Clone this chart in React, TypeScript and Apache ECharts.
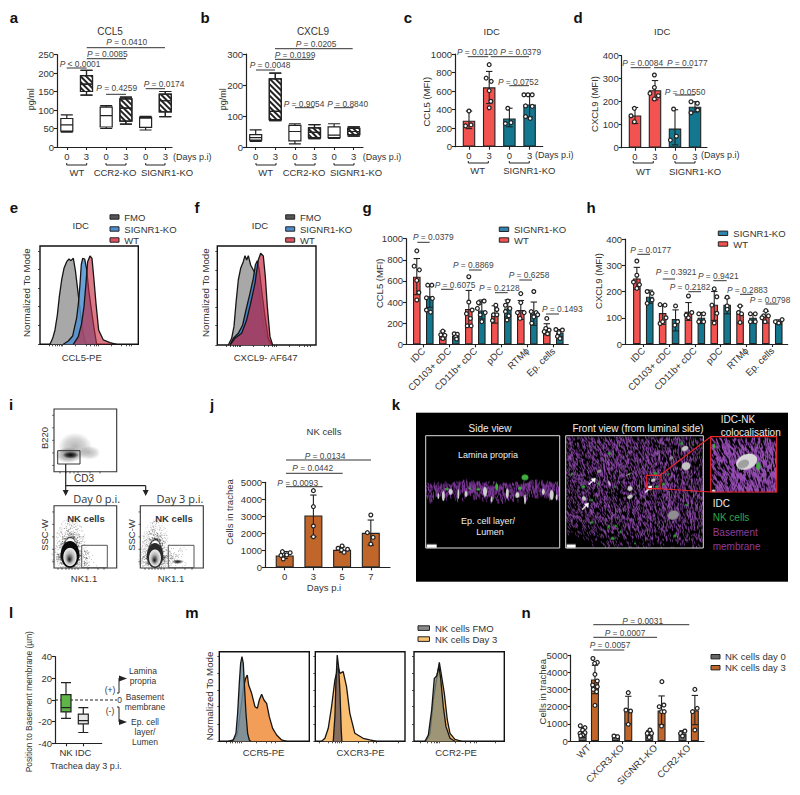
import React, { useEffect, useRef } from "react";
import * as echarts from "echarts";

const FONT = '"Liberation Sans", Arial, sans-serif';
const INK = "#333";
const LINE = "#222";
const RED = "#f25250";
const TEAL = "#12778f";
const ORANGE = "#c1662a";
const DARKGRAY = "#666";

// ---- a / b box plots: [min, q1, median, q3, max]
const dayTicks = ["0", "3", "0", "3", "0", "3"];
const aBoxes = [[40, 43, 60, 77, 87], [140, 150, 170, 193, 207], [50, 54, 85, 108, 112], [62, 70, 105, 130, 135], [46, 53, 78, 80, 83], [82, 95, 125, 143, 150]];
const bBoxes = [[18, 22, 30, 40, 55], [85, 88, 115, 220, 238], [10, 20, 50, 70, 75], [27, 30, 47, 62, 72], [28, 30, 38, 65, 75], [35, 40, 50, 60, 65]];

// ---- c / d bars
const cdTicks = ["0", "3", "0", "3"];
const cBars = [280, 640, 305, 455];
const cHi = [385, 812, 415, 560];
const cLo = [195, 465, 215, 320];
const cDots = [
  [[0, 385], [-0.17, 225], [0.1, 235]],
  [[0, 885], [-0.15, 740], [0.1, 705], [0, 605], [0.08, 490], [0, 420]],
  [[-0.08, 415], [-0.2, 250], [0.08, 260]],
  [[-0.28, 560], [-0.08, 560], [0.13, 560], [-0.2, 440], [0.13, 435], [-0.2, 325], [0.03, 305]],
];
const dBars = [140, 250, 83, 178];
const dHi = [175, 292, 165, 200];
const dLo = [105, 208, 12, 155];
const dDots = [
  [[-0.03, 171], [-0.2, 139], [-0.03, 113]],
  [[-0.03, 316], [-0.03, 262], [-0.25, 236], [0.17, 226], [-0.03, 212]],
  [[-0.07, 168], [0.07, 50], [-0.23, 33]],
  [[-0.2, 200], [0.12, 193], [0.13, 164], [-0.2, 152]],
];

// ---- e / f histograms
const eFmo = [[150, 0], [158, 18], [165, 43], [172, 88], [178, 143], [185, 193], [192, 228], [200, 248], [207, 256], [213, 251], [220, 258], [226, 223], [232, 173], [238, 123], [244, 70], [250, 30], [258, 0]];
const eKo = [[190, 0], [205, 10], [218, 25], [230, 79], [236, 130], [240, 180], [244, 240], [248, 258], [254, 256], [260, 225], [266, 165], [274, 105], [282, 50], [290, 0]];
const eWt = [[220, 0], [235, 23], [245, 63], [252, 113], [258, 183], [263, 248], [270, 265], [276, 258], [282, 193], [288, 123], [296, 43], [310, 13], [330, 5], [350, 0]];
const fFmo = [[685, 0], [695, 20], [702, 55], [708, 125], [715, 195], [722, 230], [730, 250], [735, 268], [740, 255], [745, 268], [752, 240], [760, 225], [768, 210], [775, 175], [785, 95], [795, 35], [810, 0]];
const fKo = [[690, 0], [700, 20], [715, 35], [728, 60], [738, 105], [750, 155], [760, 200], [766, 240], [772, 253], [778, 225], [785, 165], [795, 85], [805, 20], [815, 0]];
const fWt = [[690, 0], [705, 20], [725, 35], [740, 75], [752, 125], [765, 185], [775, 255], [782, 275], [790, 267], [796, 205], [802, 115], [810, 25], [818, 0]];

// ---- g / h grouped bars (WT, KO per cell type)
const cellTypes = ["IDC", "CD103+ cDC", "CD11b+ cDC", "pDC", "RTM\u03d5", "Ep. cells"];
const gBars = [640, 455, 85, 80, 335, 320, 285, 340, 325, 290, 140, 110];
const gHi = [812, 560, 125, 110, 510, 420, 365, 420, 415, 400, 195, 140];
const gLo = [470, 350, 45, 50, 170, 240, 200, 260, 235, 180, 90, 75];
const gDots = [
  [[0, 885], [-0.1, 740], [0.1, 705], [0, 605], [0.08, 490], [0, 420]],
  [[-0.08, 560], [0.08, 560], [-0.13, 440], [0.1, 435], [-0.13, 325], [0.03, 305]],
  [[0, 125], [-0.08, 90], [0.08, 85], [0, 55]],
  [[-0.06, 100], [0.06, 95], [0, 70], [0.03, 50]],
  [[0, 640], [0, 400], [0.13, 325], [-0.09, 290], [0.06, 245], [-0.06, 175], [0.09, 175]],
  [[0.09, 410], [-0.09, 390], [-0.17, 340], [0.13, 300], [-0.06, 280], [0, 215], [-0.13, 395]],
  [[0.04, 370], [0.08, 330], [-0.05, 280], [0.08, 280], [-0.09, 225]],
  [[0, 410], [-0.09, 370], [0.08, 340], [-0.09, 310], [0.04, 270], [-0.03, 230]],
  [[0, 480], [0, 395], [-0.13, 300], [0.13, 300], [-0.03, 245]],
  [[0, 500], [-0.1, 310], [0.09, 300], [0, 260], [0.15, 280], [-0.08, 200]],
  [[0, 245], [-0.04, 150], [0.09, 135], [-0.1, 120], [0.03, 100]],
  [[-0.15, 140], [0.1, 135], [-0.03, 110], [-0.09, 75], [0.01, 55]],
];
const hBars = [250, 180, 118, 95, 123, 100, 150, 150, 115, 100, 105, 85];
const hHi = [292, 205, 150, 130, 158, 120, 200, 175, 145, 115, 125, 92];
const hLo = [208, 155, 75, 50, 90, 78, 90, 115, 80, 80, 80, 75];
const hDots = [
  [[0, 316], [0, 262], [-0.13, 236], [0.1, 226], [0, 212]],
  [[-0.1, 200], [0.09, 193], [0.09, 168], [-0.1, 155]],
  [[-0.1, 150], [0.09, 148], [0.13, 100], [-0.1, 78], [0, 85]],
  [[0, 145], [0.08, 85], [-0.03, 72]],
  [[0, 183], [0.13, 120], [-0.09, 110], [0, 100]],
  [[-0.1, 115], [0.09, 115], [-0.1, 85], [0.09, 85]],
  [[0, 210], [0.1, 180], [-0.09, 148], [0.1, 117], [0, 80]],
  [[0, 178], [0, 145], [0, 132]],
  [[0, 145], [-0.06, 120], [0.06, 115], [0, 82]],
  [[-0.1, 115], [0.09, 115], [-0.1, 85], [0.09, 85]],
  [[0, 127], [-0.09, 107], [0.1, 107], [-0.15, 100], [-0.03, 85]],
  [[-0.13, 85], [0, 80], [0.13, 93]],
];

// ---- j
const jDays = ["0", "3", "5", "7"];
const jBars = [700, 3050, 1030, 2030];
const jHi = [930, 4250, 1200, 2780];
const jLo = [520, 1800, 880, 1300];
const jDots = [
  [[-0.08, 920], [0.19, 860], [0.07, 730], [-0.13, 700], [-0.05, 490]],
  [[0, 4510], [0, 3570], [0, 2430], [0, 1800]],
  [[0, 1255], [-0.14, 1120], [0.19, 1060], [-0.02, 1020], [0.07, 880]],
  [[0, 3080], [-0.12, 2040], [0.08, 1760], [0, 1370]],
];

// ---- l
const lCats = ["NK", "IDC"];
const lBoxes = [[-17, -11, -7, 5, 16], [-30, -22, -19, -13, -7]];

// ---- m histograms
const mCcr5Day3 = [[685, 0], [700, 4], [712, 19], [722, 94], [730, 159], [737, 189], [742, 199], [746, 169], [755, 144], [765, 104], [772, 99], [778, 124], [785, 141], [792, 124], [800, 114], [808, 74], [818, 39], [830, 19], [845, 4], [860, 0]];
const mCcr5Fmo = [[695, 0], [700, 4], [708, 24], [713, 84], [718, 174], [722, 234], [726, 254], [730, 234], [733, 174], [738, 84], [743, 24], [748, 4], [752, 0]];
const mCxcr3Day3 = [[965, 0], [975, 9], [985, 39], [995, 104], [1005, 184], [1015, 224], [1020, 204], [1030, 209], [1040, 164], [1050, 84], [1065, 24], [1090, 9], [1110, 4], [1130, 0]];
const mCxcr3Fmo = [[1000, 0], [1005, 74], [1008, 174], [1012, 259], [1016, 224], [1020, 154], [1024, 34], [1026, 0]];
const mCcr2Day3 = [[78, 0], [90, 24], [100, 124], [110, 189], [118, 237], [125, 194], [133, 144], [142, 64], [150, 24], [165, 6], [185, 0]];
const mCcr2Fmo = [[75, 0], [85, 19], [95, 94], [103, 189], [110, 196], [117, 224], [122, 189], [130, 104], [138, 44], [150, 9], [165, 0]];

// ---- n
const nCats = ["WT", "CXCR3-KO", "SIGNR1-KO", "CCR2-KO"];
const nBars = [500, 3580, 270, 1800, 400, 1780, 430, 1780];
const nHi = [800, 4400, 340, 2600, 600, 2620, 600, 2650];
const nLo = [200, 2750, 200, 1000, 200, 950, 300, 950];
const nDots = [
  [[-0.07, 890], [0.07, 775], [0, 640], [-0.08, 445], [0.07, 485], [0, 350], [-0.06, 300]],
  [[-0.06, 4800], [0.07, 4570], [-0.01, 4515], [0, 3875], [0.07, 3490], [-0.07, 3255], [0.07, 3160], [-0.05, 3000], [0.05, 2870], [0, 2070]],
  [[-0.06, 290], [0.05, 250]],
  [[0, 2810], [-0.07, 1800], [0.07, 1745], [0, 970]],
  [[0.02, 640], [-0.06, 445], [0.07, 445], [0, 210]],
  [[0.01, 3450], [0.07, 2090], [-0.07, 1995], [0, 1705], [0.08, 1705], [0, 870]],
  [[0.07, 580], [-0.06, 445], [0, 290]],
  [[0, 3000], [0.07, 1900], [-0.07, 1705], [0, 640]],
];

// ---- significance annotations: x1, x2, y of bar; cx, cy, value of label
const aP = [[86.7, 165, 47.7, 126.7, 42, "0.0410"], [86.7, 126, 58.7, 107.3, 53.7, "0.0085"], [66.7, 86.7, 68, 80, 64, "0.0001", "<"], [106, 126, 94.3, 116.7, 88.3, "0.4259"], [145.7, 165, 88.7, 164, 84, "0.0174"]];
const bP = [[275, 352.7, 48.7, 316, 44.3, "0.0205"], [275, 314, 59.3, 295, 55, "0.0199"], [256, 275, 70, 270, 65, "0.0048"], [295, 314.3, 107.7, 304, 103.7, "0.9054"], [334, 353.3, 107.7, 347.7, 103.7, "0.8840"]];
const cP = [[467.7, 488.3, 56.7, 477.3, 51.7, "0.0120"], [490.7, 529, 56.7, 520.7, 51.7, "0.0379"], [509.3, 529, 85.7, 518.3, 82.3, "0.0752"]];
const dP = [[630.7, 650.7, 67.7, 642.7, 63.3, "0.0084"], [654, 692.3, 67.7, 687.3, 63.3, "0.0177"], [675, 695, 95, 685, 91.7, "0.0550"]];
const gP = [[417.3, 429.7, 242.3, 433.3, 236.7, "0.0379"], [441, 453.3, 289.3, 455, 284.7, "0.6075"], [469, 481.7, 270, 473.3, 265, "0.8869"], [495, 507.7, 292.7, 499.3, 287.7, "0.2128"], [519.3, 532, 280, 529, 275.3, "0.6258"], [546, 559, 314, 562.3, 309, "0.1493"]];
const hP = [[637.3, 650, 254.3, 650.7, 250, "0.0177"], [662.7, 675, 279, 676, 271.7, "0.3921"], [688.3, 701, 291.7, 690, 286.7, "0.2182"], [713.3, 726.7, 280.7, 718.3, 276, "0.9421"], [740, 752.7, 294.3, 747.3, 290, "0.2883"], [765.7, 778.3, 304, 770, 300, "0.0798"]];
const jP = [[286, 371, 460, 325, 455.7, "0.0134"], [286, 342.7, 473.3, 312.7, 468.3, "0.0442"], [286, 322.7, 486.7, 297.7, 482.7, "0.0093"]];
const nP = [[593.3, 689.3, 624.7, 642.7, 620.7, "0.0031"], [593.3, 657, 637.3, 625, 633, "0.0007"], [593.3, 624.3, 650, 610, 645, "0.0057"]];

const letters: any[] = [["a", 14, 17], ["b", 205, 17], ["c", 408, 17], ["d", 578, 17], ["e", 14, 207], ["f", 197, 207], ["g", 367, 207], ["h", 591, 207], ["i", 11, 404], ["j", 212, 404], ["k", 396, 404], ["l", 11, 612], ["m", 192, 612], ["n", 526, 612]];

// ---------- graphic helpers ----------
const T = (x: number, y: number, text: string, o: any = {}) => ({
  type: "text", x, y, rotation: o.rot ? Math.PI / 2 : 0, silent: true,
  style: {
    text, fontFamily: o.font || FONT, fontSize: o.size || 9.5, fontWeight: o.bold ? "bold" : "normal",
    fill: o.color || INK, align: o.align || "center", verticalAlign: "middle",
  },
});
const L = (x1: number, y1: number, x2: number, y2: number, o: any = {}) => ({
  type: "line", silent: true, shape: { x1, y1, x2, y2 },
  style: { stroke: o.color || LINE, lineWidth: o.w || 1, lineDash: o.dash },
});
const R = (x: number, y: number, width: number, height: number, o: any = {}) => ({
  type: "rect", silent: true, shape: { x, y, width, height },
  style: { fill: o.fill || "none", stroke: o.stroke || LINE, lineWidth: o.w || 1 },
});
const Poly = (points: number[][], fill: string) => ({ type: "polygon", silent: true, shape: { points }, style: { fill } });
const PL = (a: any[]) => [
  L(a[0], a[2], a[1], a[2], { color: "#333", w: 1 }),
  {
    type: "text", x: a[3], y: a[4], silent: true,
    style: {
      text: `{i|P} ${a[6] || "="} ${a[5]}`, fontFamily: FONT, fontSize: 8.4, fill: "#444", align: "center", verticalAlign: "middle",
      rich: { i: { fontFamily: FONT, fontSize: 8.4, fontStyle: "italic", fill: "#444" } },
    },
  },
];
const Bracket = (x1: number, x2: number, y: number) => ({
  type: "polyline", silent: true,
  shape: { points: [[x1, y - 2], [x1, y], [x2, y], [x2, y - 2]] },
  style: { stroke: LINE, lineWidth: 1, fill: "none" },
});
const frameTicks = (x: number, y0: number, y1: number, xs: number[]) => {
  const out: any[] = [];
  [0.1, 0.3, 0.5, 0.7, 0.9].forEach((f) => out.push(L(x - 1.8, y0 + (y1 - y0) * f, x, y0 + (y1 - y0) * f, { w: 0.7 })));
  xs.forEach((v) => out.push(L(v, y1, v, y1 + 1.8, { w: 0.7 })));
  return out;
};

// ---------- series helpers ----------
const errorItem = (_p: any, api: any) => {
  const x = api.value(0);
  const a = api.coord([x, api.value(1)]);
  const b = api.coord([x, api.value(2)]);
  const st = { stroke: LINE, lineWidth: 1.1 };
  return {
    type: "group",
    children: [
      { type: "line", shape: { x1: a[0], y1: a[1], x2: b[0], y2: b[1] }, style: st },
      { type: "line", shape: { x1: a[0] - 3.2, y1: a[1], x2: a[0] + 3.2, y2: a[1] }, style: st },
      { type: "line", shape: { x1: b[0] - 3.2, y1: b[1], x2: b[0] + 3.2, y2: b[1] }, style: st },
    ],
  };
};

function build() {
  const grid: any[] = [], xAxis: any[] = [], yAxis: any[] = [], series: any[] = [], g: any[] = [];
  const axisLine = { show: true, onZero: false, lineStyle: { color: LINE, width: 1.2 } };

  const plot = (b: any) => {
    const idx = grid.length;
    grid.push({ left: b.x0, top: b.yTop, width: b.x1 - b.x0, height: b.yBot - b.yTop, show: false, outerBoundsMode: "none" });
    const ticks = b.labels.map((_: string, i: number) => i);
    xAxis.push({
      gridIndex: idx, type: "value", min: (b.x0 - b.c0) / b.step, max: (b.x1 - b.c0) / b.step,
      axisLine, splitLine: { show: false },
      axisTick: { show: true, customValues: ticks, length: 3, lineStyle: { color: LINE, width: 1.1 } },
      axisLabel: {
        show: true, customValues: ticks, formatter: (v: number) => b.labels[Math.round(v)], rotate: b.rotate || 0,
        color: INK, fontFamily: FONT, fontSize: b.xSize || 9.5, margin: b.xMargin || 4, showMinLabel: true, showMaxLabel: true, hideOverlap: false,
      },
    });
    yAxis.push({
      gridIndex: idx, type: "value", min: b.min, max: b.max, interval: b.interval,
      axisLine, splitLine: { show: false },
      axisTick: { show: true, length: 3, lineStyle: { color: LINE, width: 1.1 } },
      axisLabel: { color: INK, fontFamily: FONT, fontSize: 9.5, margin: 3, formatter: (v: number) => String(v) },
    });
    return idx;
  };

  const boxes = (idx: number, data: number[][], styles: any[]) =>
    series.push({
      type: "boxplot", xAxisIndex: idx, yAxisIndex: idx, boxWidth: [styles[0].w, styles[0].w],
      itemStyle: { color: "#fff", borderColor: LINE, borderWidth: 1.2 },
      data: data.map((d, i) => ({ value: [i, ...d], itemStyle: styles[i].item })),
    });

  const barsPlot = (idx: number, xs: number[], vals: number[], hi: number[], lo: number[], dots: number[][][], colors: string[], width: number) => {
    series.push({
      type: "bar", xAxisIndex: idx, yAxisIndex: idx, barWidth: width, z: 2,
      data: vals.map((v, i) => ({ value: [xs[i], v], itemStyle: { color: colors[i], borderColor: LINE, borderWidth: 1.1 } })),
    });
    series.push({
      type: "custom", xAxisIndex: idx, yAxisIndex: idx, z: 3, clip: false, renderItem: errorItem,
      encode: { x: 0, y: [1, 2] }, data: vals.map((_, i) => [xs[i], hi[i], lo[i]]),
    });
    series.push({
      type: "scatter", xAxisIndex: idx, yAxisIndex: idx, z: 4, symbolSize: 3.8, clip: false,
      itemStyle: { color: "#fff", borderColor: LINE, borderWidth: 1.25, opacity: 1 },
      data: dots.flatMap((list, i) => list.map((d) => [xs[i] + d[0], d[1]])),
    });
  };

  const hist = (f: any, curves: any[]) => {
    const idx = grid.length;
    grid.push({ left: f.x0, top: f.yTop, width: f.x1 - f.x0, height: f.yBot - f.yTop, show: false, outerBoundsMode: "none" });
    g.push(R(f.x0, f.yTop, f.x1 - f.x0, f.yBot - f.yTop, { stroke: "#111", w: 1.4 }));
    xAxis.push({
      gridIndex: idx, type: "value", min: f.dMin, max: f.dMax, axisLine: { show: false, onZero: false }, splitLine: { show: false },
      axisLabel: { show: false }, axisTick: { show: true, customValues: f.xTicks, length: 2, lineStyle: { color: "#222", width: 0.8 } },
    });
    yAxis.push({
      gridIndex: idx, type: "value", min: 0, max: f.h, axisLine: { show: false, onZero: false }, splitLine: { show: false },
      axisLabel: { show: false }, axisTick: f.yTicks ? { show: true, customValues: f.yTicks, length: 2, lineStyle: { color: "#222", width: 0.8 } } : { show: false },
    });
    curves.forEach((c, i) =>
      series.push({
        type: "line", xAxisIndex: idx, yAxisIndex: idx, data: c.data, symbol: "none", z: 2 + i, clip: true,
        lineStyle: { color: "#151515", width: 1.3 }, itemStyle: { color: c.color },
        areaStyle: { color: c.color, opacity: c.opacity },
      })
    );
  };

  const hatch = { symbol: "rect", color: "#222", rotation: Math.PI / 4, symbolSize: 1, dashArrayX: [1, 0], dashArrayY: [2, 2] };
  const plain = { w: 12, item: { color: "#fff" } };
  const hatched = { w: 12, item: { color: "#fff", decal: hatch } };
  const boxStyles = [plain, hatched, plain, hatched, plain, hatched];

  // a
  let i = plot({ x0: 57, x1: 172, c0: 66.8, step: 19.7, yTop: 54.5, yBot: 147, min: 0, max: 250, interval: 50, labels: dayTicks });
  boxes(i, aBoxes, boxStyles);
  g.push(T(110, 31, "CCL5", { size: 10 }), T(30.7, 99.3, "pg/ml", { rot: 1, size: 9 }));
  aP.forEach((a) => g.push(...PL(a)));
  g.push(T(173, 157, "(Days p.i)", { align: "left", size: 9 }));
  g.push(Bracket(66.7, 86.7, 165), Bracket(106, 126, 165), Bracket(145.7, 165, 165));
  g.push(T(77, 172.5, "WT"), T(115, 172.5, "CCR2-KO"), T(167, 172.5, "SIGNR1-KO"));

  // b
  i = plot({ x0: 246, x1: 363, c0: 255.7, step: 19.6, yTop: 54, yBot: 147, min: 0, max: 300, interval: 100, labels: dayTicks });
  boxes(i, bBoxes, boxStyles);
  g.push(T(313, 31, "CXCL9", { size: 10 }), T(222.7, 99.3, "pg/ml", { rot: 1, size: 9 }));
  bP.forEach((a) => g.push(...PL(a)));
  g.push(T(362.7, 157, "(Days p.i)", { align: "left", size: 9 }));
  g.push(Bracket(256, 276, 165), Bracket(295, 315, 165), Bracket(334, 354, 165));
  g.push(T(265.7, 172.5, "WT"), T(304, 172.5, "CCR2-KO"), T(356, 172.5, "SIGNR1-KO"));

  // c
  const four = [0, 1, 2, 3];
  i = plot({ x0: 455, x1: 542.7, c0: 469, step: 20.2, yTop: 54, yBot: 146.7, min: 0, max: 1000, interval: 200, labels: cdTicks });
  barsPlot(i, four, cBars, cHi, cLo, cDots, [RED, RED, TEAL, TEAL], 12.5);
  g.push(T(491.7, 31, "IDC"), T(426.7, 101.7, "CCL5 (MFI)", { rot: 1 }));
  cP.forEach((a) => g.push(...PL(a)));
  g.push(T(535, 155, "(Days p.i)", { align: "left", size: 9 }));
  g.push(Bracket(468.3, 488.3, 163), Bracket(509.3, 529.3, 163));
  g.push(T(477.7, 170.5, "WT"), T(529.3, 170.5, "SIGNR1-KO"));

  // d
  i = plot({ x0: 621.7, x1: 707, c0: 635, step: 20, yTop: 55.7, yBot: 147.7, min: 0, max: 400, interval: 100, labels: cdTicks });
  barsPlot(i, four, dBars, dHi, dLo, dDots, [RED, RED, TEAL, TEAL], 12.5);
  g.push(T(662.3, 31, "IDC"), T(594.3, 104, "CXCL9 (MFI)", { rot: 1 }));
  dP.forEach((a) => g.push(...PL(a)));
  g.push(T(701, 155, "(Days p.i)", { align: "left", size: 9 }));
  g.push(Bracket(633.3, 653.3, 163), Bracket(675, 695, 163));
  g.push(T(643.3, 171, "WT"), T(695, 171, "SIGNR1-KO"));

  // e, f
  const efLegend = (rx: number, tx: number) => {
    [["#555", "FMO", 217], ["#4f8fd0", "SIGNR1-KO", 229], ["#e0525f", "WT", 240]].forEach((r: any) => {
      g.push(R(rx, r[2] - 2.2, 9, 4.4, { fill: r[0], w: 1 }), T(tx, r[2], r[1], { align: "left" }));
    });
  };
  hist({ x0: 40, x1: 138.3, yTop: 246, yBot: 344.3, dMin: 120, dMax: 415, h: 295, yTicks: [0, 58, 113, 168, 225, 280], xTicks: [148, 158, 165, 172, 178, 183, 188, 225, 258, 272, 282, 290, 296, 335, 365, 378, 388, 395] }, [
    { data: eFmo, color: "#a8a8a8", opacity: 1 }, { data: eKo, color: "#4f8fd0", opacity: 0.85 }, { data: eWt, color: "#c8283f", opacity: 0.62 },
  ]);
  g.push(T(80.7, 225.7, "IDC"), T(26, 292.7, "Normalized To Mode", { rot: 1, size: 9.7 }), T(81.7, 357.7, "CCL5-PE"));
  efLegend(110, 124.3);
  hist({ x0: 217.3, x1: 316, yTop: 246, yBot: 345, dMin: 652, dMax: 948, h: 297, yTicks: [0, 58, 113, 168, 225, 280], xTicks: [680, 692, 700, 707, 713, 718, 722, 760, 792, 806, 816, 824, 830, 868, 898, 912, 922, 930] }, [
    { data: fFmo, color: "#a8a8a8", opacity: 1 }, { data: fKo, color: "#3f79c0", opacity: 0.9 }, { data: fWt, color: "#c8283f", opacity: 0.68 },
  ]);
  g.push(T(260, 225, "IDC"), T(205, 292.7, "Normalized To Mode", { rot: 1, size: 9.7 }), T(265.7, 357.7, "CXCL9- AF647"));
  efLegend(285.7, 300);

  // g, h
  const pairX = (n: number, off: number) => Array.from({ length: n }, (_, k) => Math.floor(k / 2) + (k % 2 ? off : -off));
  const pairColors = (n: number, a: string, b: string) => Array.from({ length: n }, (_, k) => (k % 2 ? b : a));
  i = plot({ x0: 406, x1: 568.3, c0: 423.3, step: 26, yTop: 238.7, yBot: 344.3, min: 0, max: 1000, interval: 200, labels: cellTypes, rotate: 45, xMargin: 5 });
  barsPlot(i, pairX(12, 0.25), gBars, gHi, gLo, gDots, pairColors(12, RED, TEAL), 7.6);
  g.push(T(379.3, 283.3, "CCL5 (MFI)", { rot: 1 }));
  gP.forEach((a) => g.push(...PL(a)));
  g.push(R(499.3, 227.1, 9.4, 4.4, { fill: "#2f83ad" }), T(514, 229.3, "SIGNR1-KO", { align: "left" }), R(499.3, 237.8, 9.4, 4.4, { fill: RED }), T(514, 240, "WT", { align: "left" }));

  i = plot({ x0: 625, x1: 787.7, c0: 643.3, step: 25.8, yTop: 239, yBot: 344, min: 0, max: 400, interval: 100, labels: cellTypes, rotate: 45, xMargin: 5 });
  barsPlot(i, pairX(12, 0.25), hBars, hHi, hLo, hDots, pairColors(12, RED, TEAL), 7.6);
  g.push(T(598.3, 281, "CXCL9 (MFI)", { rot: 1 }));
  hP.forEach((a) => g.push(...PL(a)));
  g.push(R(718.3, 231.1, 9.4, 4.4, { fill: "#2f83ad" }), T(733.3, 233.3, "SIGNR1-KO", { align: "left" }), R(718.3, 241.8, 9.4, 4.4, { fill: RED }), T(733.3, 244, "WT", { align: "left" }));

  // j
  i = plot({ x0: 265, x1: 390, c0: 284.7, step: 28.7, yTop: 482.3, yBot: 567.3, min: 0, max: 5000, interval: 1000, labels: jDays });
  barsPlot(i, four, jBars, jHi, jLo, jDots, [ORANGE, ORANGE, ORANGE, ORANGE], 18);
  g.push(T(324, 431, "NK cells"), T(229, 512, "Cells in trachea", { rot: 1 }), T(324, 587, "Days p.i"));
  jP.forEach((a) => g.push(...PL(a)));

  // l
  i = plot({ x0: 55, x1: 101.7, c0: 66, step: 17.3, yTop: 656.7, yBot: 743.3, min: -40, max: 40, interval: 20, labels: lCats });
  boxes(i, lBoxes, [{ w: 10, item: { color: "#5fb548" } }, { w: 10, item: { color: "#e6e6e6" } }]);
  g.push(T(29, 701.7, "Position to Basement membrane (\u00b5m)", { rot: 1, size: 8.4 }), T(86, 765.7, "Trachea day 3 p.i.", { size: 9 }));
  g.push(L(55, 700, 117, 700, { w: 1.1, dash: [3, 2] }), T(119.5, 700, "0", { size: 8.5 }));
  g.push(T(143, 670.7, "Lamina", { size: 8.5 }), T(143, 680.7, "propria", { size: 8.5 }), T(110, 690, "(+)", { size: 8.5 }));
  g.push(T(145, 697, "Basement", { size: 8.5 }), T(145, 707, "membrane", { size: 8.5 }), T(110, 711, "(-)", { size: 8.5 }));
  g.push(T(145, 722.3, "Ep. cell", { size: 8.5 }), T(145, 732.3, "layer/", { size: 8.5 }), T(145, 742.3, "Lumen", { size: 8.5 }));
  g.push(L(119, 678, 119, 693), L(117, 693, 119, 693), L(119, 707, 119, 722), L(117, 707, 119, 707));
  g.push(Poly([[119, 675.5], [127, 678.5], [119, 681.5]], "#222"), Poly([[119, 719], [127, 722], [119, 725]], "#222"));

  // m
  const mYTicks = [0, 52, 104, 154, 204, 256];
  const ORA = "#f2994f";
  hist({ x0: 219.3, x1: 309.3, yTop: 651.7, yBot: 741.3, dMin: 658, dMax: 928, h: 269, yTicks: mYTicks, xTicks: [680, 690, 698, 705, 712, 718, 724, 770, 800, 815, 825] }, [
    { data: mCcr5Day3, color: ORA, opacity: 0.95 }, { data: mCcr5Fmo, color: "#6f8da0", opacity: 0.85 },
  ]);
  hist({ x0: 315.3, x1: 405, yTop: 651.7, yBot: 741.3, dMin: 946, dMax: 1216, h: 269, yTicks: mYTicks, xTicks: [958, 985, 998, 1005, 1012, 1018, 1024, 1075, 1105, 1120, 1130, 1195] }, [
    { data: mCxcr3Day3, color: "#fbbf72", opacity: 1 }, { data: mCxcr3Fmo, color: "#6b5a5a", opacity: 0.8 },
  ]);
  hist({ x0: 414, x1: 504.3, yTop: 651.7, yBot: 741.3, dMin: 42, dMax: 313, h: 269, yTicks: mYTicks, xTicks: [60, 82, 95, 102, 108, 113, 118, 165, 195, 210, 222, 230, 285] }, [
    { data: mCcr2Day3, color: "#f8b968", opacity: 1 }, { data: mCcr2Fmo, color: "#7f8a7a", opacity: 0.75 },
  ]);
  g.push(T(209, 696, "Normalized To Mode", { rot: 1, size: 9.7 }), T(263.5, 752, "CCR5-PE"), T(360.5, 752, "CXCR3-PE"), T(456, 752, "CCR2-PE"));
  g.push(R(418, 625.8, 11.5, 4.6, { fill: "#8a8a8a" }), T(435, 628, "NK cells FMO", { align: "left" }), R(418, 636.8, 11.5, 4.6, { fill: "#f8c070" }), T(435, 639, "NK cells Day 3", { align: "left" }));

  // n
  i = plot({ x0: 570.7, x1: 704, c0: 588.8, step: 33.3, yTop: 655, yBot: 741, min: 0, max: 5000, interval: 1000, labels: nCats, rotate: 45, xMargin: 5 });
  barsPlot(i, pairX(8, 0.185), nBars, nHi, nLo, nDots, pairColors(8, DARKGRAY, ORANGE), 8);
  g.push(T(542, 691.7, "Cells in trachea", { rot: 1 }));
  nP.forEach((a) => g.push(...PL(a)));
  g.push(R(711, 654.5, 9, 4.4, { fill: DARKGRAY }), T(725, 656.7, "NK cells day 0", { align: "left" }), R(711, 665.5, 9, 4.4, { fill: ORANGE }), T(725, 667.7, "NK cells day 3", { align: "left" }));

  letters.forEach((l) => g.push(T(l[1], l[2], l[0], { size: 15, bold: 1, color: "#111" })));
  return { grid, xAxis, yAxis, series, g };
}

// ---------- raster micrographs and flow density (not chart data) ----------
const h = (n: number) => {
  const s = Math.sin(n * 12.9898) * 43758.5453;
  return s - Math.floor(s);
};
const blob = (c: CanvasRenderingContext2D, x: number, y: number, rx: number, ry: number, col: string, rot = 0) => {
  c.beginPath();
  c.ellipse(x, y, rx, ry, rot, 0, Math.PI * 2);
  c.fillStyle = col;
  c.fill();
};
const softBlob = (c: CanvasRenderingContext2D, x: number, y: number, rx: number, ry: number, rgb: string, a: number) => {
  c.save();
  c.translate(x, y);
  c.scale(rx, ry);
  const gr = c.createRadialGradient(0, 0, 0, 0, 0, 1);
  gr.addColorStop(0, `rgba(${rgb},${a})`);
  gr.addColorStop(0.6, `rgba(${rgb},${a * 0.55})`);
  gr.addColorStop(1, `rgba(${rgb},0)`);
  c.fillStyle = gr;
  c.beginPath();
  c.arc(0, 0, 1, 0, Math.PI * 2);
  c.fill();
  c.restore();
};

function micrograph() {
  const cv = document.createElement("canvas");
  const W = 372, H = 169, S = 2;
  cv.width = W * S;
  cv.height = H * S;
  const c = cv.getContext("2d")!;
  c.scale(S, S);
  c.fillStyle = "#000";
  c.fillRect(0, 0, W, H);
  c.translate(-416, -412.7);
  const z = (v: number) => 410 + v / 3;
  const zy = (v: number) => 390 + v / 3;
  c.filter = "blur(0.5px)";

  // side view band
  c.save();
  c.beginPath();
  c.rect(426, 436, 134, 112);
  c.clip();
  for (let k = 0; k < 700; k++) {
    const x = 426 + h(k + 1) * 134;
    const top = 480 + 2 * h(k + 700) + 1.5 * Math.sin(x / 11);
    const y = top + h(k + 300) * 19 * (0.45 + 0.55 * h(k + 50));
    c.strokeStyle = k % 3 ? "#7f3a9a" : "#5f2a78";
    c.lineWidth = 0.9;
    c.beginPath();
    c.moveTo(x, y);
    c.lineTo(x + 2 * (h(k + 9) - 0.3), y + 2 + 3 * h(k + 21));
    c.stroke();
  }
  [[85, 318], [100, 318], [122, 305], [145, 312], [168, 312], [225, 305], [245, 328], [292, 310], [322, 315], [345, 328], [400, 305], [425, 315], [440, 322]].forEach((p, k) =>
    blob(c, z(p[0]), zy(p[1]), 1 + (k % 3) * 0.5, 3 + (k % 2) * 2, "#d0d0d0")
  );
  [[345, 262, 3.5, 3], [260, 290, 1.5, 3.5], [205, 298, 2, 1.2], [110, 297, 2, 1.2], [330, 295, 2, 1.5], [180, 295, 1.3, 1]].forEach((p) =>
    blob(c, z(p[0]), zy(p[1]), p[2], p[3], "#3fae3f")
  );
  c.restore();

  // streak textures
  const streaks = (x0: number, y0: number, w: number, hh: number, n: number, len: number, lw: number, seed: number, patch: boolean) => {
    c.save();
    c.beginPath();
    c.rect(x0, y0, w, hh);
    c.clip();
    for (let k = 0; k < n; k++) {
      const x = x0 + h(k + seed) * w;
      const y = y0 + h(k + seed + 4000) * hh;
      if (patch) {
        const u = (x - x0) / w, v = (y - y0) / hh;
        const dens = 1 - 0.85 * Math.max(0, (v - 0.72) / 0.28) - 0.55 * Math.max(0, 0.3 - u) / 0.3 * v - 0.5 * Math.exp(-((u - 0.42) ** 2 + (v - 0.5) ** 2) / 0.012) - 0.35 * Math.max(0, u - 0.75) * (1 - v) * 4;
        if (h(k + seed + 2222) > dens) continue;
      }
      const ang = 1.25 + 0.45 * ((x - x0) / w - 0.5) + 0.35 * (h(k + seed + 900) - 0.5);
      const l = len * (0.4 + h(k + seed + 77));
      c.strokeStyle = k % 4 ? "#9a50b8" : "#7c3e9a";
      c.lineWidth = lw;
      c.beginPath();
      c.moveTo(x, y);
      c.lineTo(x + Math.cos(ang) * l, y + Math.sin(ang) * l);
      c.stroke();
    }
    c.restore();
  };
  streaks(566, 436, 137, 112, 5200, 3.2, 0.6, 11, true);
  streaks(711, 437, 66, 55, 900, 5, 1, 5011, false);

  [[825, 175, 3.5, 2.5], [828, 228, 4.5, 4], [790, 375, 5.5, 4.5], [660, 295, 2.5, 2.5], [660, 320, 3, 2], [568, 243, 2.5, 1.6], [730, 270, 2.5, 1.5], [522, 325, 2, 2.5], [785, 203, 1.8, 1.5], [598, 280, 0.8, 2.5], [655, 253, 3, 0.6]].forEach((p, k) =>
    blob(c, z(p[0]), zy(p[1]), p[2], p[3], k % 3 === 2 ? "#8f8f8f" : "#c4c4c4", -0.4)
  );
  [[850, 165], [815, 160], [598, 190], [485, 253], [565, 280], [520, 290], [615, 290], [760, 283], [545, 397], [595, 410], [617, 408], [608, 445], [675, 460], [795, 437], [830, 345], [632, 425], [545, 330], [735, 250], [775, 253], [740, 290]].forEach((p, k) =>
    blob(c, z(p[0]), zy(p[1]), 1 + (k % 3) * 0.5, 1 + (k % 2) * 0.5, "#2f9a36")
  );
  // inset cells
  blob(c, z(1010), zy(215), 11, 7.5, "#d8d8d8", -0.4);
  blob(c, z(1000), zy(222), 6, 4, "#a0a0a0", -0.4);
  blob(c, z(1045), zy(228), 2.2, 4, "#3fae3f");
  blob(c, z(912), zy(168), 1.3, 2.5, "#3fae3f");
  // arrows
  [[545, 275], [525, 350], [715, 298]].forEach((p) => {
    const x = z(p[0]), y = zy(p[1]);
    c.strokeStyle = "#fff";
    c.lineWidth = 1.3;
    c.beginPath();
    c.moveTo(x - 3, y + 3);
    c.lineTo(x + 2, y - 2);
    c.stroke();
    c.fillStyle = "#fff";
    c.beginPath();
    c.moveTo(x + 4, y - 4);
    c.lineTo(x - 1, y - 3);
    c.lineTo(x + 3, y + 1);
    c.fill();
  });
  c.filter = "none";
  c.fillStyle = "#fff";
  c.fillRect(z(50), zy(463), 10, 3.5);
  c.fillRect(z(470), zy(463), 9, 3.5);
  c.fillRect(z(905), zy(300), 3.5, 1.8);
  return cv;
}

function flowImage() {
  const cv = document.createElement("canvas");
  const W = 210, H = 180, S = 2;
  cv.width = W * S;
  cv.height = H * S;
  const c = cv.getContext("2d")!;
  c.scale(S, S);
  c.translate(0, -400);
  const X = (v: number) => v / 3;
  const Y = (v: number) => 390 + v / 3;
  // top density
  softBlob(c, X(225), Y(170), 17, 14, "120,120,120", 0.55);
  softBlob(c, X(268), Y(188), 11, 7, "120,120,120", 0.5);
  softBlob(c, X(205), Y(195), 13, 8, "90,90,90", 0.7);
  softBlob(c, X(212), Y(195), 8, 3.5, "0,0,0", 1);

  const cell = (cx: number, cy: number, rx: number, ry: number, n: number, seed: number, spread: number, dark: string) => {
    for (let k = 0; k < n; k++) {
      const a = h(k + seed) * Math.PI * 2;
      const t = h(k + seed + 500);
      const r = 0.85 + spread * t * t;
      const sinA = Math.sin(a);
      const x = cx + Math.cos(a) * r * rx * (sinA < 0 ? 0.9 : 1.05);
      const y = cy + sinA * r * ry * (sinA < 0 ? 1.4 : 0.8);
      if (y < 567) {
        c.fillStyle = `rgba(30,30,30,${0.75 - 0.45 * t})`;
        c.fillRect(x, y, 0.7, 0.7);
      }
    }
    c.beginPath();
    c.ellipse(cx, cy + 1, rx, ry, 0, 0, Math.PI * 2);
    c.fillStyle = dark;
    c.fill();
    c.save();
    c.translate(cx, cy + 3.5);
    c.scale(rx * 0.72, ry * 0.68);
    const gr = c.createRadialGradient(-0.1, 0.3, 0, 0, 0, 1);
    gr.addColorStop(0, "#0c0c0c");
    gr.addColorStop(0.18, "#444");
    gr.addColorStop(0.55, "#b5b5b5");
    gr.addColorStop(1, "#f4f4f4");
    c.fillStyle = gr;
    c.beginPath();
    c.arc(0, 0, 1, 0, Math.PI * 2);
    c.fill();
    c.restore();
  };
  cell(70, 553.5, 9.3, 13.5, 1100, 31, 1.1, "#0a0a0a");
  cell(155, 554.5, 8.2, 12.5, 1100, 3301, 1.25, "#2a2a2a");
  // gate events
  c.fillStyle = "#666";
  for (let k = 0; k < 60; k++) c.fillRect(84 + h(k + 7) * 14 * h(k + 55), 550 + h(k + 88) * 16, 0.6, 0.6);
  for (let k = 0; k < 60; k++) c.fillRect(168 + h(k + 17) * 18, 546 + h(k + 188) * 20, 0.6, 0.6);
  softBlob(c, X(533), Y(515), 6, 2.2, "10,10,10", 1);
  return cv;
}

export default function App() {
  const ref = useRef<HTMLDivElement>(null);
  useEffect(() => {
    const chart = echarts.init(ref.current!, undefined, { renderer: "svg" });
    const { grid, xAxis, yAxis, series, g } = build();

    // panel i
    const iG: any[] = [
      { type: "image", silent: true, x: 0, y: 400, style: { image: flowImage(), width: 210, height: 180 } },
      R(54, 409, 62.7, 62.7, { stroke: "#333", w: 1.1 }),
      R(57.7, 450.7, 22.3, 13.3, { stroke: "#333" }),
      T(44, 438, "B220", { rot: 1 }), T(84, 478, "CD3", { size: 10 }),
      L(65.7, 464, 65.7, 493, { w: 1.2 }), L(65.7, 485.7, 145.7, 485.7, { w: 1.2 }), L(145.7, 485.7, 145.7, 493, { w: 1.2 }),
      Poly([[62.7, 490], [68.7, 490], [65.7, 496]], "#222"), Poly([[142.7, 490], [148.7, 490], [145.7, 496]], "#222"),
      T(96.7, 498, "Day 0 p.i.", { size: 11, font: '"Open Sans", sans-serif' }), T(180, 498, "Day 3 p.i.", { size: 11, font: '"Open Sans", sans-serif' }),
      R(54, 505.7, 62.7, 62.3, { stroke: "#333", w: 1.1 }), R(140.3, 505.7, 63, 62.3, { stroke: "#333", w: 1.1 }),
      R(81.7, 545.3, 25.6, 22.4, { stroke: "#555" }), R(168.3, 545.3, 25.7, 22.4, { stroke: "#555" }),
      T(86, 518, "NK cells", { bold: 1, size: 9.5 }), T(174, 518, "NK cells", { bold: 1, size: 9.5 }),
      T(44.3, 535, "SSC-W", { rot: 1 }), T(131, 535, "SSC-W", { rot: 1 }),
      T(84, 578, "NK1.1"), T(171, 578, "NK1.1"),
      ...frameTicks(54, 409, 471.7, [60, 66, 70, 74, 78, 90, 100]),
      ...frameTicks(54, 505.7, 568, [58, 62, 66, 69, 72, 75, 78, 88, 98, 104]),
      ...frameTicks(140.3, 505.7, 568, [145, 149, 152, 155, 158, 161, 164, 175, 185, 192]),
    ];

    // panel k
    const kG: any[] = [
      { type: "image", silent: true, x: 416, y: 412.7, style: { image: micrograph(), width: 372, height: 169 } },
      R(425.7, 435.7, 134, 112.3, { stroke: "#ddd", w: 1 }), R(565.7, 435.7, 137.6, 112.3, { stroke: "#ddd", w: 1 }),
      R(710.7, 436.7, 66, 55.3, { stroke: "#e8262a", w: 1.2 }), R(646.7, 475.3, 13.3, 13.4, { stroke: "#e8262a", w: 1.2 }),
      L(660, 475.3, 710.7, 436.7, { color: "#e8262a", w: 1.1 }), L(660, 488.7, 710.7, 492, { color: "#e8262a", w: 1.1 }),
      T(490, 428, "Side view", { size: 10, color: "#eee" }), T(638, 428, "Front view (from luminal side)", { size: 10, color: "#eee" }),
      T(720.7, 419, "IDC-NK", { size: 10, color: "#eee", align: "left" }), T(720.7, 432, "colocalisation", { size: 10, color: "#eee", align: "left" }),
      T(488, 455, "Lamina propria", { size: 9, color: "#eee" }), T(488, 521, "Ep. cell layer/", { size: 9, color: "#eee" }), T(490, 532, "Lumen", { size: 9, color: "#eee" }),
      T(712.7, 503, "IDC", { size: 10, color: "#eee", align: "left" }), T(712.7, 517, "NK cells", { size: 10, color: "#2fa84a", align: "left" }),
      T(712.7, 532, "Basement", { size: 10, color: "#8e3c9c", align: "left" }), T(712.7, 546, "membrane", { size: 10, color: "#8e3c9c", align: "left" }),
    ];

    chart.setOption({
      animation: false,
      backgroundColor: "#fff",
      textStyle: { fontFamily: FONT },
      grid, xAxis, yAxis, series,
      graphic: { elements: [...iG, ...kG, ...g] },
    });
    return () => chart.dispose();
  }, []);
  return <div ref={ref} style={{ position: "absolute", left: 0, top: 0, width: 800, height: 795 }} />;
}
